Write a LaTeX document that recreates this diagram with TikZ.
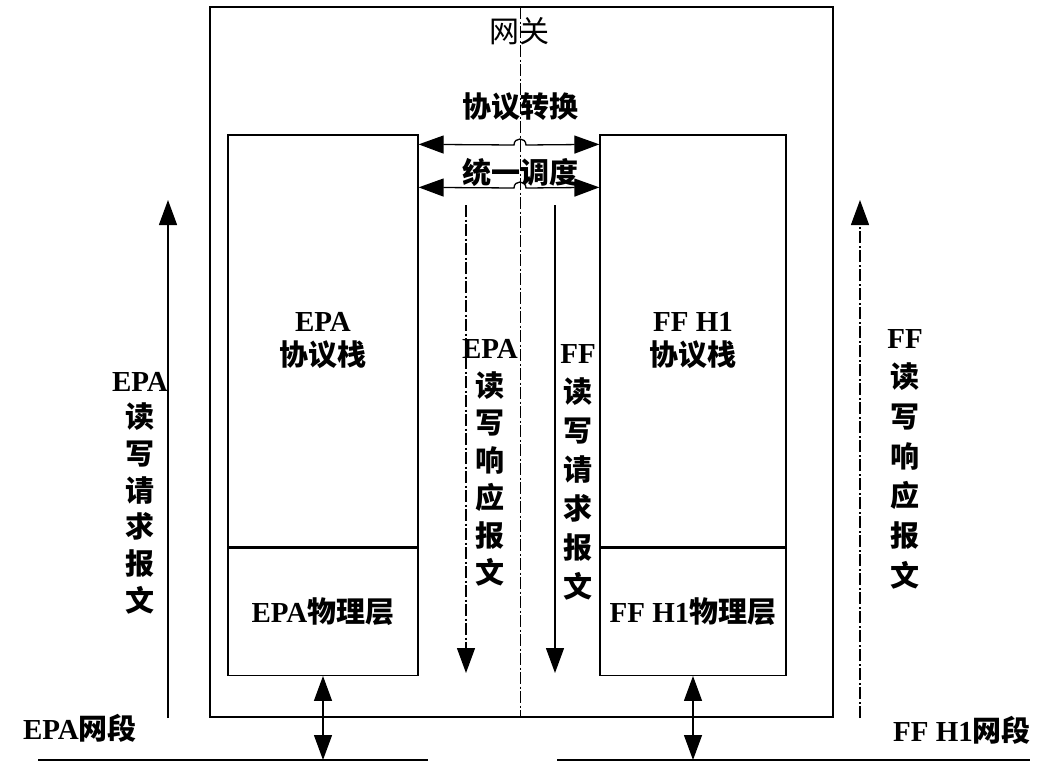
\documentclass[tikz,border=0pt]{standalone}
\usepackage{fontspec}
\setmainfont{Liberation Serif}
\newfontfamily\cjk{Noto Sans CJK SC}
\usetikzlibrary{arrows.meta,calc}
\begin{document}
\begin{tikzpicture}[x=1pt,y=-1pt,
  line width=1.3pt,
  lbl/.style={font=\fontsize{29}{37}\selectfont\bfseries, align=center, inner sep=0pt},
  stackbox/.style={draw, line width=1.3pt, inner sep=0pt, align=center,
     font=\fontsize{29}{34}\selectfont\bfseries},
  tipr/.style={-{Triangle[length=25pt,width=18pt]}},
  tipboth/.style={{Triangle[length=25pt,width=18pt]}-{Triangle[length=25pt,width=18pt]}},
  dashdot/.style={dash pattern=on 12pt off 2.5pt on 2pt off 2.5pt},
]
\useasboundingbox (0,0) rectangle (1042,763);
\fill[white] (0,0) rectangle (1042,763);

% gateway
\node[draw, line width=1.3pt, minimum width=623pt, minimum height=710pt, inner sep=0pt] (gw) at (521.5,362) {};
\node[font=\fontsize{30}{34}\selectfont\cjk, inner sep=0pt] (gwl) at (519,31) {网关};
\coordinate (ct) at (520,7);
\coordinate (cb) at (520,717);
\draw[dashdot, line width=1pt] (ct) -- (cb);

% stacks
\node[stackbox, minimum width=190pt, minimum height=412pt] (epa) at (323,341) {EPA\\\cjk 协议栈};
\node[stackbox, minimum width=190pt, minimum height=127pt, anchor=north] (epaphy) at (epa.south) {EPA{\cjk 物理层}};
\node[stackbox, minimum width=186pt, minimum height=412pt] (ff) at (693,341) {FF H1\\\cjk 协议栈};
\node[stackbox, minimum width=186pt, minimum height=127pt, anchor=north] (ffphy) at (ff.south) {FF H1{\cjk 物理层}};

% top arrows with hops
\node[lbl, font=\fontsize{29}{34}\selectfont\bfseries\cjk] (conv) at (520,107) {协议转换};
\node[lbl, font=\fontsize{29}{34}\selectfont\bfseries\cjk] (sched) at (520,172) {统一调度};
\draw[tipboth] ([yshift=-10pt]epa.north east) -- (514,145) .. controls (514,137) and (526,137) .. (526,145) -- ([yshift=-10pt]ff.north west);
\draw[tipboth] ([yshift=-53pt]epa.north east) -- (514,188) .. controls (514,180) and (526,180) .. (526,188) -- ([yshift=-53pt]ff.north west);

% internal message arrows
\coordinate (a1s) at (466,205);
\coordinate (a1e) at (466,673);
\coordinate (a2s) at (555,205);
\coordinate (a2e) at (555,673);
\draw[tipr, dashdot] (a1s) -- (a1e);
\draw[tipr] (a2s) -- (a2e);

% external arrows
\coordinate (l1s) at (168,718);
\coordinate (l1e) at (168,200);
\coordinate (r1s) at (860,718);
\coordinate (r1e) at (860,200);
\draw[tipr] (l1s) -- (l1e);
\draw[tipr, dashdot] (r1s) -- (r1e);

% segments
\coordinate (el1) at (38,760);
\coordinate (el2) at (428,760);
\coordinate (fl1) at (557,760);
\coordinate (fl2) at (1030,760);
\draw (el1) -- (el2);
\draw (fl1) -- (fl2);
\draw[tipboth] (epaphy.south) -- (epaphy.south |- el1);
\draw[tipboth] (ffphy.south) -- (ffphy.south |- fl1);

\node[lbl] (eseg) at (80,728) {EPA{\cjk 网段}};
\node[lbl] (fseg) at (962,730) {FF H1{\cjk 网段}};

% vertical labels
\node[lbl, font=\fontsize{29}{36.7}\selectfont\bfseries] (lreq) at (140,493) {EPA\\\cjk 读\\\cjk 写\\\cjk 请\\\cjk 求\\\cjk 报\\\cjk 文};
\node[lbl, font=\fontsize{29}{37.5}\selectfont\bfseries] (mresp) at (490,463) {EPA\\\cjk 读\\\cjk 写\\\cjk 响\\\cjk 应\\\cjk 报\\\cjk 文};
\node[lbl, font=\fontsize{29}{39}\selectfont\bfseries] (mreq) at (578,472) {FF\\\cjk 读\\\cjk 写\\\cjk 请\\\cjk 求\\\cjk 报\\\cjk 文};
\node[lbl, font=\fontsize{29}{39.7}\selectfont\bfseries] (rresp) at (905,459) {FF\\\cjk 读\\\cjk 写\\\cjk 响\\\cjk 应\\\cjk 报\\\cjk 文};
\end{tikzpicture}
\end{document}
